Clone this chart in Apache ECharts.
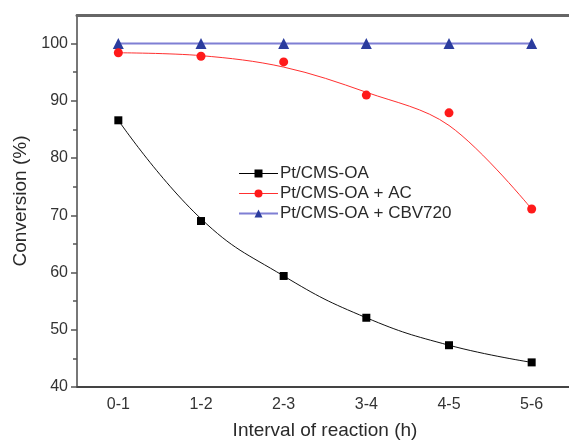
<!DOCTYPE html>
<html><head><meta charset="utf-8">
<script src="https://cdn.jsdelivr.net/npm/echarts@6/dist/echarts.min.js"></script>
<style>html,body{margin:0;padding:0;background:#fff}#c{width:569px;height:440px}</style>
</head><body><div id="c"></div>
<script>
var categories = ['0-1','1-2','2-3','3-4','4-5','5-6'];
var blackPts = [86.6, 69.0, 59.4, 52.1, 47.3, 44.3];
var redPts = [98.4, 97.8, 96.8, 91.0, 87.9, 71.1];
var bluePts = [100, 100, 100, 100, 100, 100];
var blackFit = [86.6, 69.4, 59.4, 52.1, 47.3, 44.3];
var redFit = [98.4, 97.9, 95.9, 91.5, 85.7, 71.1];
var yTicks = [40, 50, 60, 70, 80, 90, 100];
var names = ['Pt/CMS-OA', 'Pt/CMS-OA + AC', 'Pt/CMS-OA + CBV720'];

var chart = echarts.init(document.getElementById('c'), null, {renderer:'canvas'});
var font = 'Liberation Sans, Arial, sans-serif';
chart.setOption({
  animation: false,
  backgroundColor: '#fff',
  grid: {left: 77, right: -4, top: 15, bottom: 53, containLabel: false, outerBoundsMode: 'none'},
  legend: {
    orient: 'vertical', left: 233, top: 160, itemWidth: 39, itemHeight: 10, itemGap: 3,
    textStyle: {fontFamily: font, fontSize: 17, lineHeight: 17, color: '#2a2a2a', padding: [0,0,0,-3]},
    data: [
      {name: names[0], lineStyle: {color: '#000', width: 1, opacity: 1}},
      {name: names[1], lineStyle: {color: '#ff3030', width: 1, opacity: 1}},
      {name: names[2], lineStyle: {color: '#7f7fd4', width: 2, opacity: 1}}
    ]
  },
  xAxis: [
    {type: 'category', data: categories, boundaryGap: true, position: 'bottom',
     name: 'Interval of reaction (h)', nameLocation: 'middle', nameGap: 34,
     nameTextStyle: {fontFamily: font, fontSize: 19, color: '#2a2a2a'},
     axisLine: {lineStyle: {color: '#444', width: 2}},
     axisTick: {alignWithLabel: true, length: 6, inside: false, lineStyle: {color: '#555', width: 1.5}},
     axisLabel: {fontFamily: font, fontSize: 16, color: '#333', margin: 10},
     splitLine: {show: false}},
    {type: 'category', data: categories, boundaryGap: true, position: 'bottom', offset: 0,
     axisLine: {show: false},
     axisTick: {alignWithLabel: false, length: 4, lineStyle: {color: '#555', width: 1.5}},
     axisLabel: {show: false}, splitLine: {show: false}},
    {type: 'category', data: categories, boundaryGap: true, position: 'top',
     axisLine: {show: true, lineStyle: {color: '#666', width: 3}},
     axisTick: {show: false}, axisLabel: {show: false}, splitLine: {show: false}}
  ],
  yAxis: {
    type: 'value', min: 40, max: 105, interval: 10,
    name: 'Conversion (%)', nameLocation: 'middle', nameGap: 43, nameRotate: 90,
    nameTextStyle: {fontFamily: font, fontSize: 19, color: '#2a2a2a'},
    axisLine: {show: true, lineStyle: {color: '#777', width: 2}},
    axisTick: {show: true, length: 6, lineStyle: {color: '#555', width: 1.5},
      customValues: yTicks},
    minorTick: {show: true, splitNumber: 2, length: 4, lineStyle: {color: '#555', width: 1.5}},
    axisLabel: {fontFamily: font, fontSize: 16, color: '#333', margin: 9, customValues: yTicks},
    splitLine: {show: false}
  },
  series: [
    {type: 'line', data: blackFit, smooth: 0.45, showSymbol: false, silent: true,
     lineStyle: {color: '#111', width: 1}, z: 2},
    {type: 'line', data: redFit, smooth: 0.35, showSymbol: false, silent: true,
     lineStyle: {color: '#ff3030', width: 1}, z: 2},
    {type: 'line', name: names[2], data: bluePts, symbol: 'triangle', symbolSize: 11,
     itemStyle: {color: '#2b3c9e'}, lineStyle: {color: '#7f7fd4', width: 2}, z: 3},
    {type: 'line', name: names[0], data: blackPts, symbol: 'rect', symbolSize: 8,
     itemStyle: {color: '#000'}, lineStyle: {color: '#000', width: 1, opacity: 0}, z: 4},
    {type: 'line', name: names[1], data: redPts, symbol: 'circle', symbolSize: 9,
     itemStyle: {color: '#ff1a1a'}, lineStyle: {color: '#ff3030', width: 1, opacity: 0}, z: 4}
  ]
});
</script></body></html>
